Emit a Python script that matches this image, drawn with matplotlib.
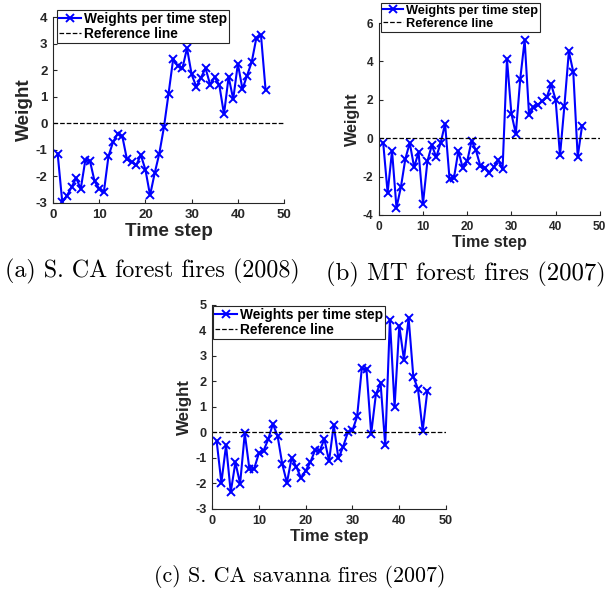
import numpy as np
import matplotlib
matplotlib.use("Agg")
from matplotlib import pyplot as plt

plt.rcParams['font.family'] = ['Liberation Sans', 'DejaVu Sans']
plt.rcParams['font.weight'] = 'bold'
plt.rcParams['axes.unicode_minus'] = False

steps = np.arange(1, 47)

# (a) S. CA forest fires (2008)
weights_a = [-1.14, -2.96, -2.73, -2.41, -2.06, -2.47, -1.38, -1.42, -2.19, -2.46,
             -2.59, -1.24, -0.70, -0.39, -0.49, -1.36, -1.45, -1.58, -1.19, -1.75,
             -2.71, -1.88, -1.14, -0.15, 1.11, 2.42, 2.17, 2.07, 2.83, 1.84,
             1.38, 1.71, 2.08, 1.46, 1.74, 1.43, 0.34, 1.75, 0.91, 2.24,
             1.29, 1.80, 2.31, 3.21, 3.33, 1.26]

# (b) MT forest fires (2007)
weights_b = [-0.24, -2.84, -0.66, -3.62, -2.55, -1.09, -0.24, -1.51, -0.73, -3.41,
             -1.20, -0.36, -0.99, -0.24, 0.75, -2.11, -2.08, -0.66, -1.56, -1.20,
             -0.14, -0.64, -1.47, -1.53, -1.80, -1.51, -1.13, -1.63, 4.12, 1.28,
             0.23, 3.08, 5.11, 1.20, 1.61, 1.73, 1.94, 2.13, 2.81, 2.01,
             -0.90, 1.70, 4.52, 3.45, -0.97, 0.66]

# (c) S. CA savanna fires (2007)
weights_c = [-0.35, -1.97, -0.50, -2.34, -1.17, -2.01, -0.03, -1.45, -1.42, -0.82,
             -0.72, -0.27, 0.33, -0.13, -1.23, -1.97, -1.00, -1.34, -1.78, -1.50,
             -1.17, -0.70, -0.72, -0.26, -1.12, 0.29, -1.02, -0.56, 0.00, 0.08,
             0.63, 2.52, 2.47, -0.05, 1.49, 1.95, -0.50, 4.43, 1.01, 4.18,
             2.86, 4.49, 2.19, 1.70, 0.07, 1.64]

captions = ["(a) S. CA forest fires (2008)", "(b) MT forest fires (2007)",
            "(c) S. CA savanna fires (2007)"]

ink = '#262626'

fig = plt.figure(figsize=(6.08, 5.9), dpi=100)

panels = [
    # rect, data, ylim, yticks, tick size, label size, legend size, legend anchor
    ([0.0872, 0.656, 0.380, 0.315], weights_a, (-3, 4), range(-3, 5), 9.5, 13.6, 9.9, (0.017, 1.038)),
    ([0.623, 0.6356, 0.3635, 0.3254], weights_b, (-4, 6), range(-4, 7, 2), 8.6, 11.6, 9.2, (0.009, 1.104)),
    ([0.3487, 0.1373, 0.385, 0.3458], weights_c, (-3, 5), range(-3, 6), 9.2, 12.2, 9.9, (0.004, 0.995)),
]

for rect, w, ylim, yticks, tsize, lsize, gsize, anchor in panels:
    ax = fig.add_axes(rect)
    ax.plot(steps, w, color='blue', lw=1.5, marker='x', ms=5.5, mew=1.4,
            label='Weights per time step')
    ax.plot([0, 50], [0, 0], '--', color='black', lw=0.9, label='Reference line')
    ax.set_xlim(0, 50)
    ax.set_ylim(*ylim)
    ax.set_xticks(range(0, 51, 10))
    ax.set_yticks(list(yticks))
    for s in ['top', 'right']:
        ax.spines[s].set_visible(False)
    for s in ['left', 'bottom']:
        ax.spines[s].set_color(ink)
        ax.spines[s].set_linewidth(0.8)
    ax.tick_params(direction='in', length=3, width=0.8, colors=ink, labelsize=tsize, pad=4)
    for lab in ax.get_xticklabels() + ax.get_yticklabels():
        lab.set_fontweight('bold')
    ax.set_xlabel('Time step', fontsize=lsize, fontweight='bold', color=ink, labelpad=2)
    ax.set_ylabel('Weight', fontsize=lsize, fontweight='bold', color=ink, labelpad=2)
    leg = ax.legend(loc='upper left', bbox_to_anchor=anchor, borderaxespad=0,
                    fontsize=gsize, numpoints=1, handlelength=1.6, handletextpad=0.2,
                    borderpad=0.15, labelspacing=0.05, fancybox=False, framealpha=1,
                    edgecolor=ink)
    leg.get_frame().set_linewidth(0.8)
    for t in leg.get_texts():
        t.set_fontweight('bold')
        t.set_color('black')

cap_font = ['cmr10', 'DejaVu Serif']
fig.text(152 / 608, 1 - 271 / 590, captions[0], ha='center', va='center',
         fontsize=17.3, family=cap_font, fontweight='normal')
fig.text(326 / 608, 1 - 274 / 590, captions[1], ha='left', va='center',
         fontsize=17.8, family=cap_font, fontweight='normal')
fig.text(300 / 608, 1 - 577 / 590, captions[2], ha='center', va='center',
         fontsize=15.8, family=cap_font, fontweight='normal')

fig.savefig('out.png', dpi=100)
